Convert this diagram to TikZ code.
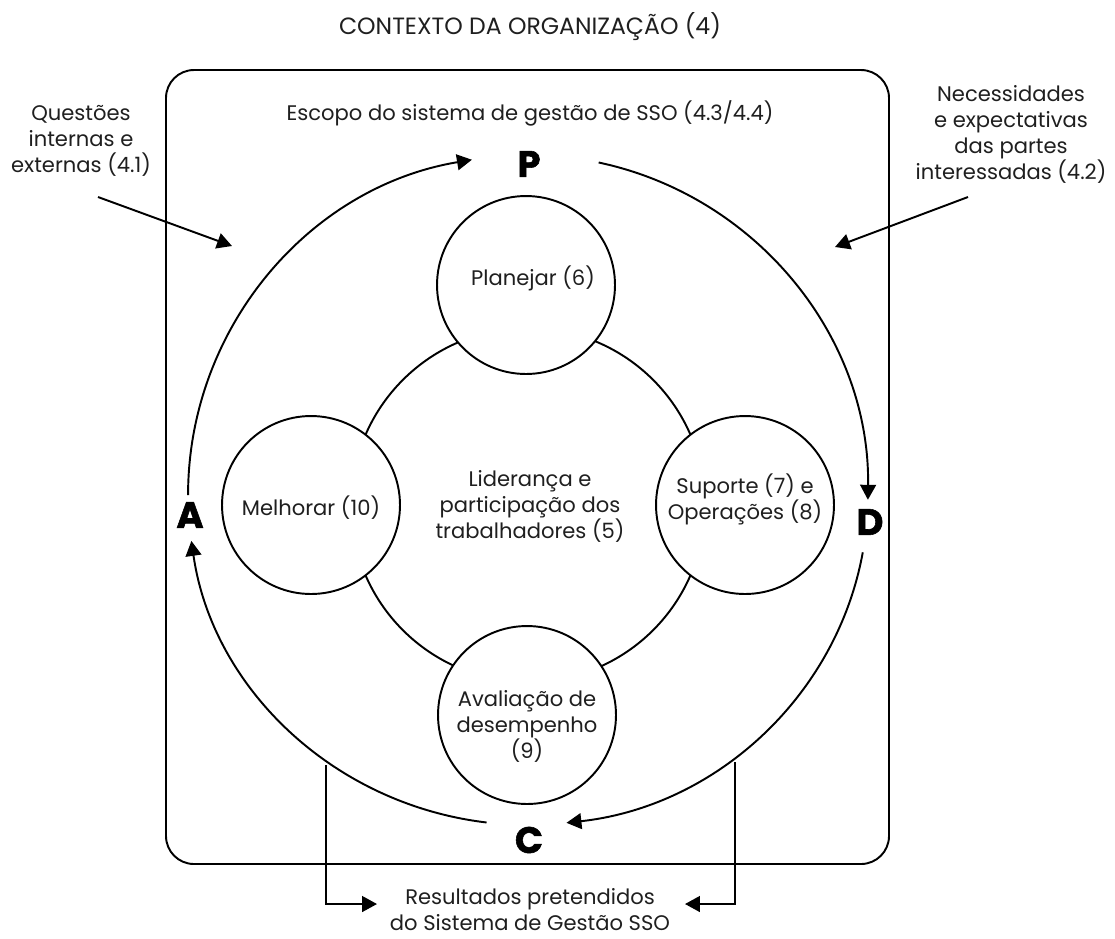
\documentclass[tikz,border=0pt]{standalone}
\usepackage{fontspec}
\setmainfont{Poppins}
\newfontfamily\heavyfont{Poppins}[FakeBold=1.5]
\usetikzlibrary{arrows.meta,calc}
\begin{document}
\begin{tikzpicture}[x=0.02cm,y=-0.02cm,
  every node/.style={font=\fontsize{12}{14.8}\selectfont, text=black!88},
  ln/.style={line width=1.1pt, draw=black},
  arr/.style={ln, -{Triangle[length=8.5pt,width=9pt]}},
  smallc/.style={circle, ln, fill=white, minimum size=3.56cm, inner sep=0pt},
  letter/.style={font=\fontsize{21}{22}\selectfont\heavyfont\bfseries, text=black},
  txt/.style={align=center, inner sep=0pt}
]
\useasboundingbox (0,0) rectangle (1115,938);
% frame
\draw[ln, rounded corners=0.56cm] (166,70) rectangle (889,864);
% titles
\node[txt, font=\fontsize{13.4}{15}\selectfont] (title) at (530,27) {CONTEXTO DA ORGANIZAÇÃO (4)};
\node[txt] (scope) at (530,113) {Escopo do sistema de gestão de SSO (4.3/4.4)};
\node[txt] (quest) at (81,141) {Questões\\internas e\\externas (4.1)};
\node[txt] (neces) at (1011,134) {Necessidades\\e expectativas\\das partes\\interessadas (4.2)};
\node[txt] (res) at (530,910) {Resultados pretendidos\\do Sistema de Gestão SSO};
% central circle
\coordinate (O) at (528,495);
\node[circle, ln, minimum size=7.08cm, inner sep=0pt] (core) at (528,505) {};
\node[txt] (lid) at (530,506) {Liderança e\\participação dos\\trabalhadores (5)};
% small circles
\node[smallc] (plan) at (526,285) {};
\node[txt] (tplan) at (533,278) {Planejar (6)};
\node[smallc] (melh) at (311,505) {};
\node[txt] (tmelh) at (311,508) {Melhorar (10)};
\node[smallc] (sup) at (745,505) {};
\node[txt] (tsup) at (745,499) {Suporte (7) e\\Operações (8)};
\node[smallc] (aval) at (527,715) {};
\node[txt] (taval) at (527,726) {Avaliação de\\desempenho\\(9)};
% PDCA letters
\node[letter] (P) at (529,164) {P};
\node[letter] (D) at (870,522) {D};
\node[letter] (C) at (529,840) {C};
\node[letter] (A) at (190,515) {A};
% cycle arcs
\draw[arr] ($(O)+(180:6.8cm)$) arc[start angle=180, end angle=99.5, radius=6.8cm];
\draw[arr] ($(O)+(78:6.8cm)$) arc[start angle=78, end angle=-0.8, radius=6.8cm];
\draw[arr] ($(O)+(-10:6.8cm and 6.6cm)$) arc[start angle=-10, end angle=-83.5, x radius=6.8cm, y radius=6.6cm];
\draw[arr] ($(O)+(-97:6.8cm and 6.6cm)$) arc[start angle=-97, end angle=-172, x radius=6.8cm, y radius=6.6cm];
% input arrows
\coordinate (q1) at (98,197);
\coordinate (q2) at (232,246);
\draw[arr] (q1) -- (q2);
\coordinate (n1) at (968,197);
\coordinate (n2) at (835,247);
\draw[arr] (n1) -- (n2);
% output arrows
\coordinate (fl) at (326,765);
\coordinate (fltip) at (377,904);
\coordinate (fr) at (735,762);
\coordinate (frtip) at (685,904);
\draw[arr] (fl) |- (fltip);
\draw[arr] (fr) |- (frtip);
\end{tikzpicture}
\end{document}
